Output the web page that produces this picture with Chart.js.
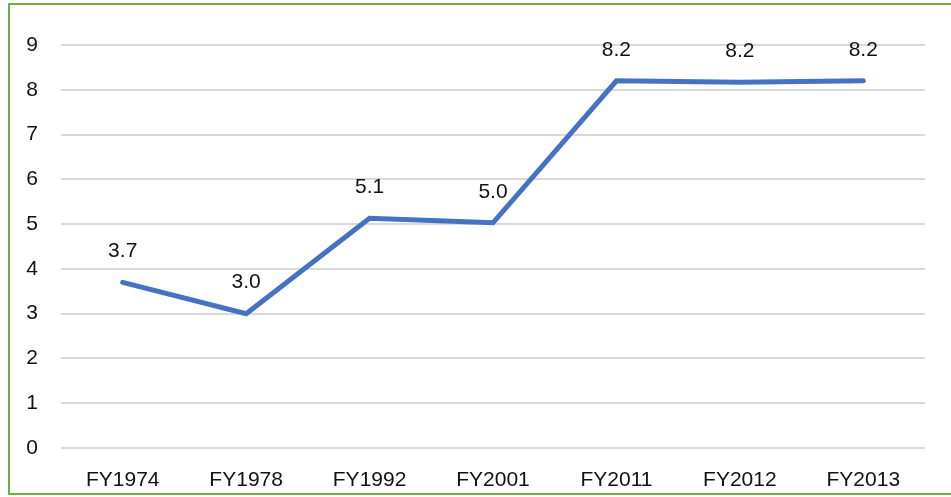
<!DOCTYPE html>
<html>
<head>
<meta charset="utf-8">
<script src="https://cdn.jsdelivr.net/npm/chart.js@4"></script>
<style>
  html, body { margin: 0; padding: 0; background: #fff; overflow: hidden; }
  #wrap { position: relative; width: 951px; height: 497px; }
  #frame {
    position: absolute; left: 8px; top: 3px; width: 960px; height: 488px;
    border: 2.5px solid #70AD47; pointer-events: none;
  }
  #myChart { position: absolute; left: 0; top: 0; }
</style>
</head>
<body>
<div id="wrap">
  <canvas id="myChart" width="951" height="497"></canvas>
  <div id="frame"></div>
</div>
<script>
const ctx = document.getElementById('myChart');

const years = ['FY1974', 'FY1978', 'FY1992', 'FY2001', 'FY2011', 'FY2012', 'FY2013'];
const values = [3.7, 3.0, 5.13, 5.03, 8.2, 8.17, 8.2];
const yTicks = [0, 1, 2, 3, 4, 5, 6, 7, 8, 9];

const font = { family: 'Liberation Sans', size: 21 };

// value labels above each point
const pointLabels = {
  id: 'pointLabels',
  afterDatasetsDraw(chart) {
    const c = chart.ctx;
    const meta = chart.getDatasetMeta(0);
    c.save();
    c.font = '21px "Liberation Sans"';
    c.fillStyle = '#111';
    c.textAlign = 'center';
    c.textBaseline = 'middle';
    meta.data.forEach((pt, i) => {
      c.fillText(values[i].toFixed(1), pt.x, pt.y - 31);
    });
    c.restore();
  }
};

let cc = new Chart(ctx, {
  type: 'line',
  data: {
    labels: years,
    datasets: [{
      label: 'value',
      data: values,
      borderColor: '#4472C4',
      borderWidth: 5,
      borderCapStyle: 'round',
      tension: 0,
      pointRadius: 0,
      fill: false
    }]
  },
  options: {
    responsive: false,
    animation: false,
    layout: { padding: { top: 45, right: 26, bottom: 0, left: 0 } },
    plugins: { legend: { display: false }, tooltip: { enabled: false } },
    scales: {
      x: {
        offset: true,
        grid: { display: false, drawTicks: false },
        border: { display: false },
        ticks: { color: '#111', font: font, padding: 20, maxRotation: 0 },
        afterFit: (s) => { s.height = 49; }
      },
      y: {
        min: 0,
        max: 9,
        afterBuildTicks: (s) => { s.ticks = yTicks.map(v => ({ value: v })); },
        grid: { color: '#d9d9d9', lineWidth: 2, drawTicks: false },
        border: { display: false },
        ticks: { color: '#111', font: font, padding: 23 },
        afterFit: (s) => { s.width = 61; }
      }
    }
  },
  plugins: [pointLabels]
});
</script>
</body>
</html>
